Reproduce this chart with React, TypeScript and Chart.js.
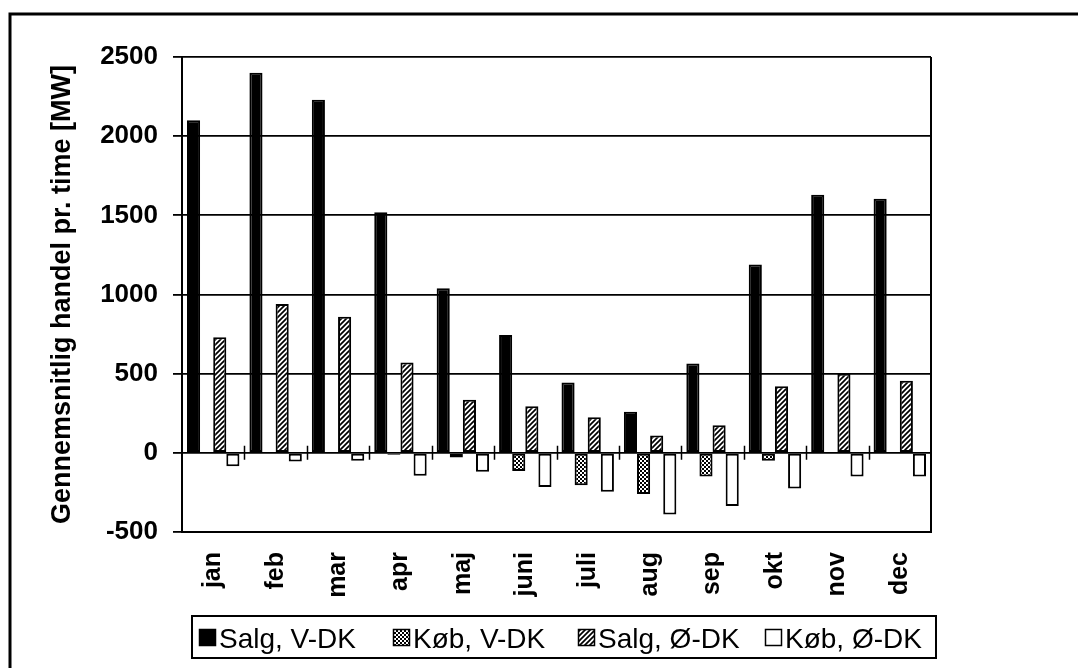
import React, { useEffect, useRef } from 'react';
import { Chart, registerables } from 'chart.js';

Chart.register(...registerables);

const months = ['jan', 'feb', 'mar', 'apr', 'maj', 'juni', 'juli', 'aug', 'sep', 'okt', 'nov', 'dec'];
const salgVDK = [2100, 2400, 2230, 1520, 1040, 745, 445, 260, 565, 1190, 1630, 1605];
const kobVDK = [0, 0, 0, -12, -30, -115, -205, -260, -150, -50, 0, 0];
const salgODK = [730, 940, 860, 570, 335, 295, 225, 110, 175, 420, 500, 455];
const kobODK = [-85, -55, -50, -145, -120, -215, -245, -390, -335, -225, -150, -150];
const seriesLabels = ['Salg, V-DK', 'Køb, V-DK', 'Salg, Ø-DK', 'Køb, Ø-DK'];
const yMin = -500;
const yMax = 2500;
const yStep = 500;
const yTitle = 'Gennemsnitlig handel pr. time [MW]';

const FONT = "'Liberation Sans', Arial, Helvetica, sans-serif";

function makeDotPattern(): CanvasPattern | string {
  const c = document.createElement('canvas');
  c.width = 4;
  c.height = 4;
  const g = c.getContext('2d');
  if (!g) return '#777';
  g.fillStyle = '#000';
  g.fillRect(0, 0, 4, 4);
  g.fillStyle = '#fff';
  g.fillRect(0, 0, 2, 2);
  g.fillRect(2, 2, 2, 2);
  return g.createPattern(c, 'repeat') || '#777';
}

function makeHatchPattern(): CanvasPattern | string {
  const s = 5;
  const c = document.createElement('canvas');
  c.width = s;
  c.height = s;
  const g = c.getContext('2d');
  if (!g) return '#888';
  g.fillStyle = '#fff';
  g.fillRect(0, 0, s, s);
  g.strokeStyle = '#000';
  g.lineWidth = 1.7;
  g.beginPath();
  g.moveTo(0, s);
  g.lineTo(s, 0);
  g.moveTo(-s / 2, s / 2);
  g.lineTo(s / 2, -s / 2);
  g.moveTo(s / 2, s * 1.5);
  g.lineTo(s * 1.5, s / 2);
  g.stroke();
  return g.createPattern(c, 'repeat') || '#888';
}

const decorPlugin = {
  id: 'decor',
  afterDraw(chart: any) {
    const ctx: CanvasRenderingContext2D = chart.ctx;
    const area = chart.chartArea;
    const yScale = chart.scales.y;
    ctx.save();

    // outer frame (left & top visible)
    ctx.strokeStyle = '#000';
    ctx.lineWidth = 3;
    ctx.beginPath();
    ctx.moveTo(10, 668);
    ctx.lineTo(10, 14);
    ctx.lineTo(1078, 14);
    ctx.stroke();

    // plot area right border
    ctx.lineWidth = 2;
    ctx.beginPath();
    ctx.moveTo(area.right, area.top);
    ctx.lineTo(area.right, area.bottom);
    ctx.stroke();

    // category tick marks crossing the zero line
    const y0 = yScale.getPixelForValue(0);
    const n = months.length;
    const catW = (area.right - area.left) / n;
    ctx.lineWidth = 1.5;
    ctx.beginPath();
    for (let i = 1; i < n; i++) {
      const x = Math.round(area.left + catW * i) + 0.5;
      ctx.moveTo(x, y0 - 7);
      ctx.lineTo(x, y0 + 7);
    }
    ctx.stroke();

    // legend box
    const boxL = 192;
    const boxT = 616;
    const boxR = 936;
    const boxB = 658;
    ctx.lineWidth = 2;
    ctx.strokeRect(boxL, boxT, boxR - boxL, boxB - boxT);
    const starts = [199, 393, 578, 765];
    ctx.font = `28px ${FONT}`;
    ctx.textBaseline = 'alphabetic';
    ctx.textAlign = 'left';
    chart.data.datasets.forEach((ds: any, i: number) => {
      const sx = starts[i];
      ctx.fillStyle = ds.backgroundColor;
      ctx.fillRect(sx, 629, 17, 17);
      ctx.lineWidth = 1.5;
      ctx.strokeStyle = '#000';
      ctx.strokeRect(sx + 0.5, 629.5, 16, 16);
      ctx.fillStyle = '#000';
      ctx.fillText(ds.label, sx + 20, 648);
    });
    ctx.restore();
  },
};

export default function App() {
  const ref = useRef<HTMLCanvasElement>(null);

  useEffect(() => {
    const canvas = ref.current;
    if (!canvas) return;
    const dots = makeDotPattern();
    const hatch = makeHatchPattern();
    const common = {
      borderColor: '#000',
      borderWidth: 2,
      borderSkipped: false,
      categoryPercentage: 0.84,
      barPercentage: 1.0,
    };
    const chart = new Chart(canvas, {
      type: 'bar',
      data: {
        labels: months,
        datasets: [
          { label: seriesLabels[0], data: salgVDK, backgroundColor: '#000', ...common },
          { label: seriesLabels[1], data: kobVDK, backgroundColor: dots as any, ...common },
          { label: seriesLabels[2], data: salgODK, backgroundColor: hatch as any, ...common },
          { label: seriesLabels[3], data: kobODK, backgroundColor: '#fff', ...common },
        ],
      },
      options: {
        responsive: false,
        animation: false,
        devicePixelRatio: 1,
        layout: { padding: { left: 0, top: 57, right: 147, bottom: 0 } },
        plugins: {
          legend: { display: false },
          tooltip: { enabled: false },
        },
        scales: {
          x: {
            grid: { display: false, drawTicks: false },
            border: { display: true, color: '#000', width: 2 },
            ticks: {
              color: '#000',
              font: { family: FONT, size: 25, weight: 'bold' },
              minRotation: 90,
              maxRotation: 90,
              autoSkip: false,
              padding: 20,
            },
            afterFit: (scale: any) => {
              scale.height = 136;
            },
          },
          y: {
            min: yMin,
            max: yMax,
            grid: {
              color: '#000',
              lineWidth: 1.8,
              tickLength: 9,
              tickColor: '#000',
              drawTicks: true,
            },
            border: { display: true, color: '#000', width: 2 },
            ticks: {
              stepSize: yStep,
              color: '#000',
              font: { family: FONT, size: 26, weight: 'bold' },
              padding: 15,
              callback: (v: any) => String(v),
            },
            title: {
              display: true,
              text: yTitle,
              color: '#000',
              font: { family: FONT, size: 27, weight: 'bold' },
              padding: { top: 46, bottom: 0 },
            },
            afterFit: (scale: any) => {
              scale.width = 182;
            },
          },
        },
      } as any,
      plugins: [decorPlugin],
    });
    return () => chart.destroy();
  }, []);

  return (
    <div style={{ position: 'fixed', left: 0, top: 0, width: 1078, height: 668, background: '#fff' }}>
      <canvas ref={ref} width={1078} height={668} style={{ display: 'block', width: 1078, height: 668 }} />
    </div>
  );
}
